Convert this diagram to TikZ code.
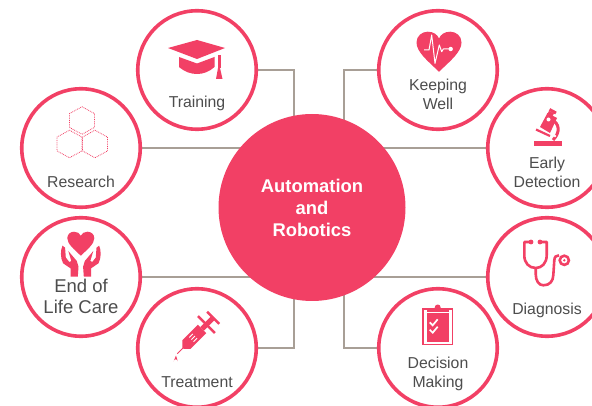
\documentclass[tikz,border=0pt]{standalone}
\usepackage{fontspec}
\setmainfont{Liberation Sans}
\usetikzlibrary{backgrounds,calc}

\definecolor{rosePink}{HTML}{F24065}
\definecolor{linkGrey}{HTML}{A89F96}
\definecolor{labelGrey}{HTML}{4D4D4D}

\tikzset{
  ring/.style={circle,draw=rosePink,fill=white,line width=3.6pt,minimum size=118.5pt,inner sep=0pt},
  hubNode/.style={circle,fill=rosePink,minimum size=187pt,inner sep=0pt,text=white,align=center,
    font=\fontsize{18.4pt}{22pt}\selectfont\bfseries},
  ringText/.style={align=center,text=labelGrey,inner sep=0pt,font=\fontsize{15.8pt}{19pt}\selectfont},
  bigText/.style={ringText,font=\fontsize{18.5pt}{21pt}\selectfont},
  link/.style={draw=linkGrey,line width=1.5pt},
  icon/.style={fill=rosePink,draw=none},
  iconLine/.style={draw=rosePink,line width=2.6pt},
  iconCut/.style={draw=white,line width=1pt}
}

\newcommand{\heartShape}{(0,1.78) .. controls (-0.5,1.3) and (-1,0.9) .. (-1,0.48)
  .. controls (-1,0.18) and (-0.75,0) .. (-0.5,0) .. controls (-0.25,0) and (-0.08,0.12) .. (0,0.3)
  .. controls (0.08,0.12) and (0.25,0) .. (0.5,0) .. controls (0.75,0) and (1,0.18) .. (1,0.48)
  .. controls (1,0.9) and (0.5,1.3) .. (0,1.78) -- cycle}

\begin{document}
\begin{tikzpicture}[x=1pt,y=-1pt]
    \clip (0,0) rectangle (592,406);

    \node[hubNode] (hub) at (312,207.5) {Automation\\and\\Robotics};

    \node[ring] (training) at (197,70) {};
    \node[ring] (research) at (81,148) {};
    \node[ring] (endOfLife) at (81,277) {};
    \node[ring] (treatment) at (197,348) {};
    \node[ring] (keepingWell) at (438,70) {};
    \node[ring] (earlyDetection) at (547,148) {};
    \node[ring] (diagnosis) at (547,277) {};
    \node[ring] (decisionMaking) at (438,348) {};

    \node[ringText] (trainingLabel) at (197,103.5) {Training};
    \node[ringText] (researchLabel) at (81,182) {Research};
    \node[bigText] (endOfLifeLabel) at (81,296) {End of\\Life Care};
    \node[ringText] (treatmentLabel) at (197,382) {Treatment};
    \node[ringText] (keepingWellLabel) at (438,94) {Keeping\\Well};
    \node[ringText] (earlyDetectionLabel) at (547,172.5) {Early\\Detection};
    \node[ringText] (diagnosisLabel) at (547,310.5) {Diagnosis};
    \node[ringText] (decisionMakingLabel) at (438,373.5) {Decision\\Making};

    \coordinate (leftRail) at (294,207.5);
    \coordinate (rightRail) at (344,207.5);

    \begin{pgfonlayer}{background}
      \draw[link] (training) -| (leftRail);
      \draw[link] (treatment) -| (leftRail);
      \draw[link] (keepingWell) -| (rightRail);
      \draw[link] (decisionMaking) -| (rightRail);
      \draw[link] (research) -- (research -| hub);
      \draw[link] (earlyDetection) -- (earlyDetection -| hub);
      \draw[link] (endOfLife) -- (endOfLife -| hub);
      \draw[link,line width=2.4pt] (diagnosis) -- (diagnosis -| hub);
    \end{pgfonlayer}

    % graduation cap
    \fill[icon] (168,48) -- (197,40) -- (225,48) -- (197,59) -- cycle;
    \fill[icon] (179,57) -- (197,63.5) -- (214.5,57) -- (214.5,67) .. controls (209,72) and (203,74) .. (197,74)
      .. controls (191,74) and (185,72) .. (179,67) -- cycle;
    \fill[icon] (217.5,55) rectangle (220.5,68);
    \fill[icon] (218,68) -- (220,68) -- (222.5,79) -- (216,79) -- cycle;

    % hexagons
    \foreach \cx/\cy in {82/120.5,69.5/144,95/144} {
      \draw[rosePink,line width=0.8pt,densely dotted] (\cx,\cy-13.8) -- (\cx+12.5,\cy-6.9) -- (\cx+12.5,\cy+6.9)
        -- (\cx,\cy+13.8) -- (\cx-12.5,\cy+6.9) -- (\cx-12.5,\cy-6.9) -- cycle;
    }

    % heart with pulse
    \begin{scope}[shift={(439,31.7)},scale=22.5]
      \fill[icon] \heartShape;
    \end{scope}
    \draw[iconCut,line join=round] (424,50) -- (429,50) -- (431.7,35) -- (435,63.3) -- (439.3,45) -- (441.7,51.7) -- (443.3,49) -- (450.7,49);
    \fill[white] (450.7,49) circle (2.2);

    % microscope
    \fill[icon] (534,140.7) rectangle (561.7,145.7);
    \fill[icon] (540,127) -- (547.5,113) -- (557,118) -- (550,133) -- cycle;
    \draw[rosePink,line width=2.2pt] (536,129.5) -- (550,136);
    \draw[rosePink,line width=3pt] (549.5,109.5) -- (556,113);
    \fill[icon] (549,111) -- (554,113.5) -- (552,117) -- (547,114.5) -- cycle;
    \draw[rosePink,line width=3pt] (552,120) .. controls (559,123) and (561,132) .. (553,140);
    \fill[white] (548.5,119.5) circle (2);
    \fill[white] (555,136) circle (1.3);

    % hands and heart
    \begin{scope}[shift={(80.8,231.7)},scale=13.5]
      \fill[icon] \heartShape;
    \end{scope}
    \foreach \side in {1,-1} {
      \begin{scope}[shift={(80.8,0)},xscale=\side]
        \fill[icon] (-18.3,245.7) .. controls (-20.5,250) and (-20.5,258) .. (-17.7,263.3) -- (-10.3,268.3) -- (-10.3,276.7)
          -- (-3,276.7) -- (-2.3,266.7) -- (-4,261) -- (-12.5,251) -- (-9.5,261) -- (-11.5,262) -- (-15,257.5) -- (-15.7,247.7) -- cycle;
      \end{scope}
    }

    % syringe
    \begin{scope}[shift={(177.3,353.7)},rotate=45]
      \draw[rosePink,line width=1pt] (0,0) -- (10,0);
      \fill[icon] (8,-1) -- (13,-6) -- (35,-6) -- (35,6) -- (13,6) -- (8,1) -- cycle;
      \fill[icon] (35,-2.5) rectangle (51,2.5);
      \fill[icon] (40,-12) rectangle (42.5,12);
      \fill[icon] (49.5,-8.5) rectangle (52,8.5);
      \foreach \row in {-3,0,3} {
        \draw[iconCut] (20,\row) -- (25,\row);
      }
    \end{scope}
    \fill[icon] (176,355.5) .. controls (175.6,358) and (173.7,359.5) .. (173.7,361.3) arc[start angle=180,end angle=360,radius=2] .. controls (177.7,359.5) and (176.4,358) .. (176,355.5) -- cycle;

    % stethoscope
    \draw[iconLine,line join=round] (531,242) -- (524.3,242) -- (524.3,255.3) .. controls (524.3,263) and (529,268) .. (535.7,268)
      .. controls (542,268) and (546.7,263) .. (546.7,255.3) -- (546.7,242) -- (540,242);
    \draw[iconLine] (535.7,268) -- (535.7,274) .. controls (535.7,281) and (539,285.3) .. (543.3,285.3)
      .. controls (550,285.3) and (553,281) .. (553.3,275.3) -- (554.3,260.3) .. controls (554.5,257) and (556,255.3) .. (559,255.3);
    \fill[icon] (531,242) circle (2.4) (540,242) circle (2.4);
    \draw[rosePink,line width=2.6pt,fill=white] (564.3,260.3) circle (4.6);
    \fill[icon] (564.3,260.3) circle (1.3);

    % clipboard
    \draw[rosePink,line width=1.6pt] (423,309) rectangle (452.5,344.5);
    \fill[icon] (427,313) rectangle (449,341.5);
    \fill[icon] (427,309) rectangle (448.5,311.8);
    \fill[icon] (437.7,307.5) circle (3);
    \foreach \ty in {322.3,329.7} {
      \draw[white,line width=1.7pt] (429.7,\ty) -- (432.7,\ty+3) -- (437.7,\ty-3);
    }
\end{tikzpicture}
\end{document}
